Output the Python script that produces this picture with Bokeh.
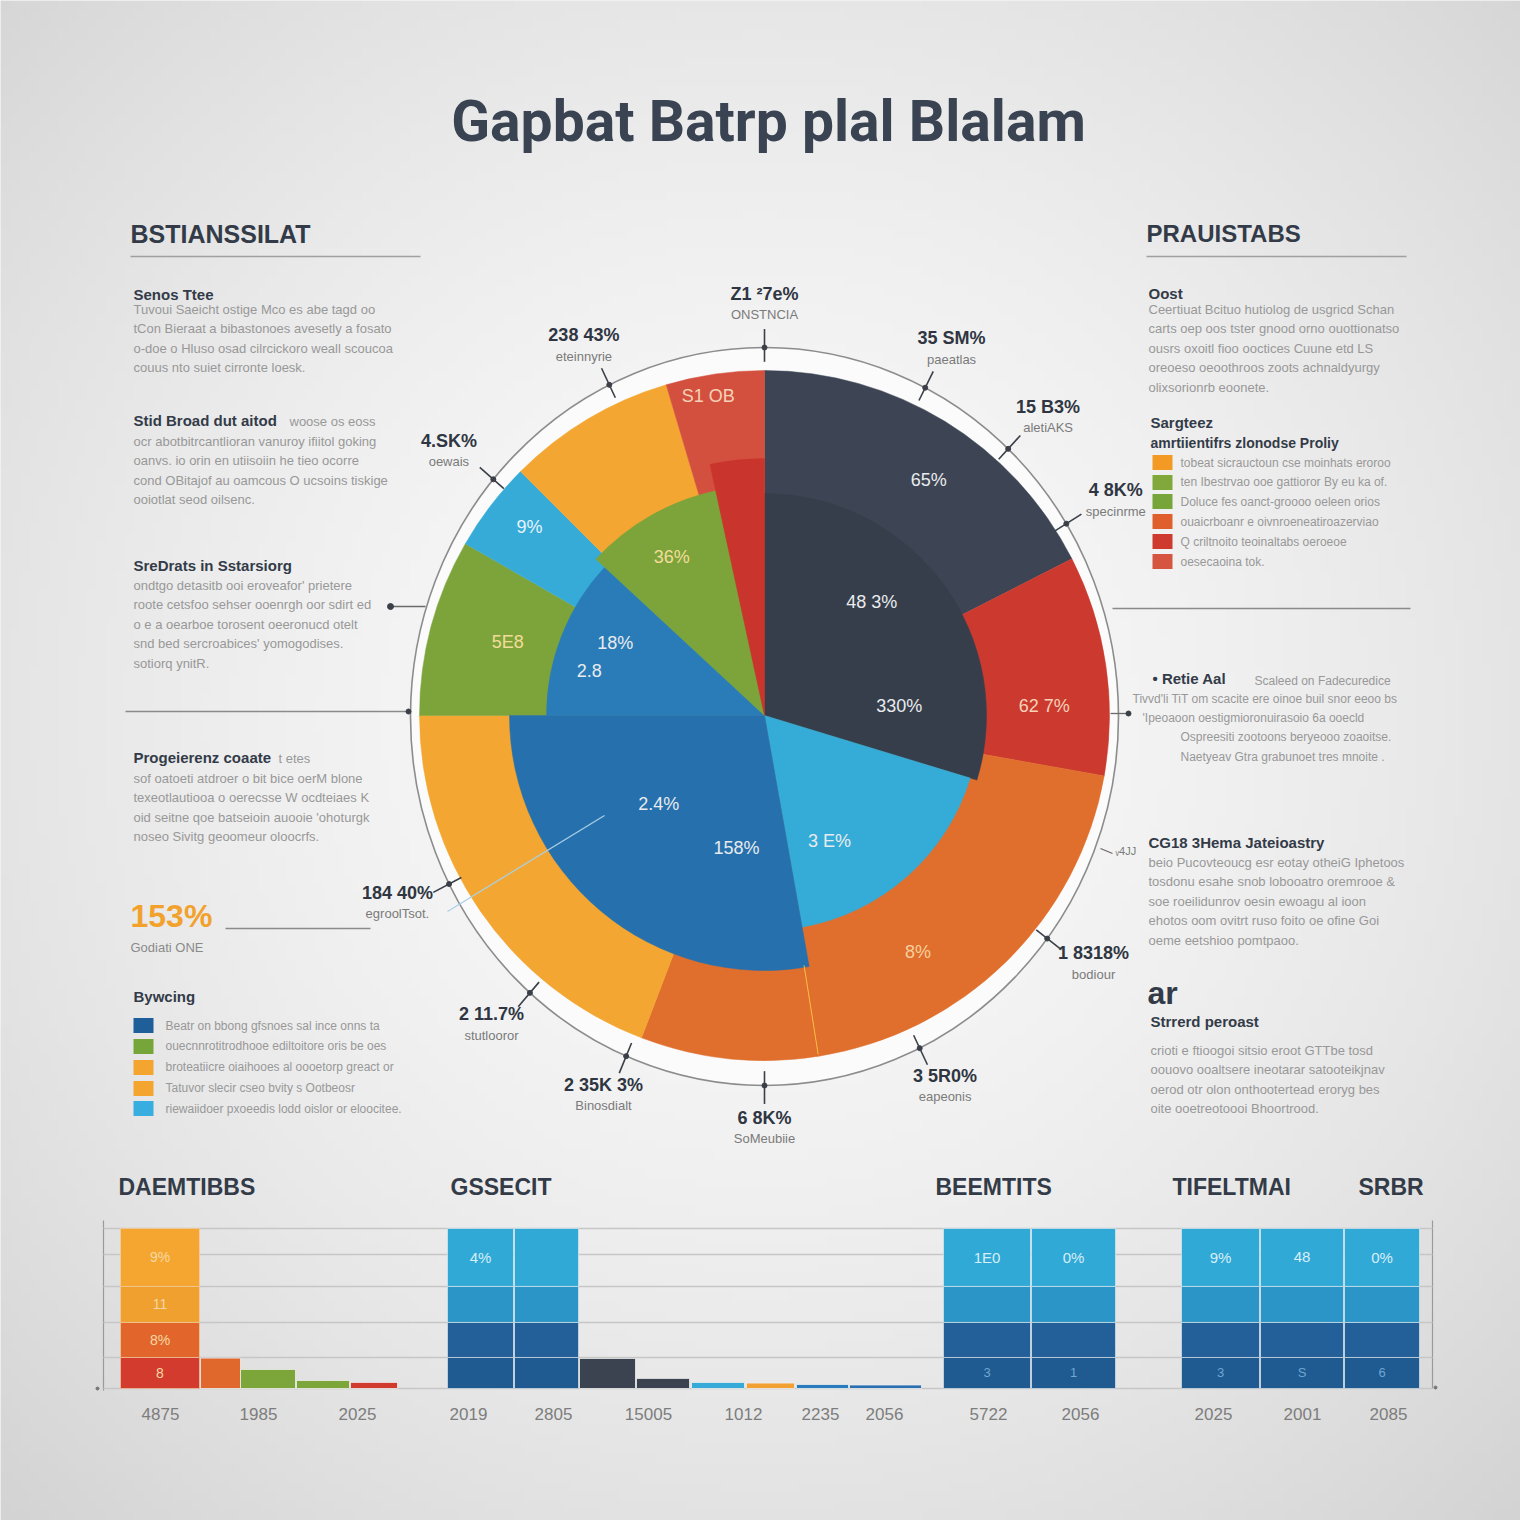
import numpy as np
from bokeh.plotting import figure
from bokeh.models import Range1d, ColumnDataSource
from bokeh.core.properties import value
from bokeh.embed import file_html
from bokeh.resources import INLINE

# ======================= DATA =======================
TITLE = "Gapbat Batrp plal Blalam"

# outer ring of the pie (clockwise from 12 o'clock), shares in %
outer_share = [17.5, 10.3, 19.7, 8.3, 19.2, 8.3, 4.2, 7.9, 4.6]
outer_colors = ["#3d4554", "#cc3a2f", "#e06e2c", "#e06e2c", "#f3a631",
                "#7da43a", "#36abd8", "#f3a631", "#d4503e"]

# inner pie (clockwise from 12 o'clock), shares in %
inner_share = [29.7, 17.5, 27.8, 11.9, 9.7, 3.4]
inner_colors = ["#363e4b", "#35acd7", "#2670ad", "#2a7cb8", "#7da43a", "#c9352d"]

# labels printed on the pie
pie_text = ["48 3%", "330%", "3 E%", "2.4%", "158%", "18%", "2.8", "36%",
            "65%", "62 7%", "8%", "5E8", "9%", "S1 OB"]

# callouts around the ring
callout_value = ["Z1 ²7e%", "238 43%", "35 SM%", "15 B3%", "4 8K%", "4.SK%",
                 "184 40%", "2 11.7%", "2 35K 3%", "6 8K%", "3 5R0%", "1 8318%"]
callout_sub = ["ONSTNCIA", "eteinnyrie", "paeatlas", "aletiAKS", "specinrme", "oewais",
               "egroolTsot.", "stutlooror", "Binosdialt", "SoMeubiie", "eapeonis", "bodiour"]

# bottom bar panel
bar_headings = ["DAEMTIBBS", "GSSECIT", "BEEMTITS", "TIFELTMAI", "SRBR"]
stack_segments = [19.4, 21.9, 22.5, 36.2]          # bottom -> top, % of scale
grid_values = [0, 19.4, 41.3, 63.75, 83.75, 100]
warm_stack_colors = ["#d23b2d", "#e2662c", "#f0a02f", "#f5a630"]
blue_stack_colors = ["#1f5a90", "#235f98", "#2a95c6", "#31a9d7"]
g1_small = [19.0, 11.9, 5.0, 3.8]
g1_small_colors = ["#e0682c", "#7ca53a", "#7ca53a", "#d13b2d"]
g2_small = [18.8, 6.3, 3.8, 3.4, 2.5, 2.2]
g2_small_colors = ["#3b4350", "#3b4350", "#35a9d8", "#f2a030", "#2a7bbd", "#2a6fb0"]
warm_stack_text = ["8", "8%", "11", "9%"]
blue_top_text = ["4%", "", "1E0", "0%", "9%", "48", "0%"]
blue_bottom_text = ["", "", "3", "1", "3", "S", "6"]
bar_tick_labels = ["4875", "1985", "2025", "2019", "2805", "15005", "1012",
                   "2235", "2056", "5722", "2056", "2025", "2001", "2085"]

left_heading = "BSTIANSSILAT"
right_heading = "PRAUISTABS"

# ======================= LAYOUT =======================
W = H = 1520
def X(x):
    return x
def Y(y):
    return 1520 - y

p = figure(width=W, height=H, x_range=Range1d(0, W), y_range=Range1d(0, H),
           output_backend="svg", toolbar_location=None, min_border=0)
p.axis.visible = False
p.grid.visible = False
p.outline_line_color = None
p.background_fill_color = "#ececec"
p.border_fill_color = "#ececec"

# --- background radial gradient ---
n = 160
ys, xs = np.mgrid[0:n, 0:n] / (n - 1)
d = np.hypot(xs - 0.5, ys - 0.53)
g = np.clip(250 - 38 * (d / 0.72) ** 1.6, 0, 255).astype(np.uint8)
img = np.empty((n, n), dtype=np.uint32)
view = img.view(dtype=np.uint8).reshape((n, n, 4))
view[:, :, 0] = g
view[:, :, 1] = g
view[:, :, 2] = g
view[:, :, 3] = 255
p.image_rgba(image=[img], x=0, y=0, dw=W, dh=H)

FONT = value("Liberation Sans")
HFONT = value("Roboto")
DARK = "#333b48"
GRAY = "#8e8e8e"


def txt(x, y, s, size, color=GRAY, style="normal", align="left", font=FONT, alpha=1.0):
    p.text(x=[X(x)], y=[Y(y)], text=[s], text_font=font, text_font_size=f"{size}px",
           text_color=color, text_font_style=style, text_align=align,
           text_baseline="middle", text_alpha=alpha)


def para(x, y0, lines, dy=19.4, size=13, color="#989898", xs=None):
    xx = [X(x if xs is None else xs[i]) for i in range(len(lines))]
    yy = [Y(y0 + i * dy) for i in range(len(lines))]
    p.text(x=xx, y=yy, text=lines, text_font=FONT, text_font_size=f"{size}px",
           text_color=color, text_baseline="middle", text_align="left")


def seg(x0, y0, x1, y1, color="#8a8a8a", width=1.3, alpha=1.0):
    p.segment(x0=[X(x0)], y0=[Y(y0)], x1=[X(x1)], y1=[Y(y1)],
              line_color=color, line_width=width, line_alpha=alpha)


def dot(x, y, size=6, color="#3a3f48"):
    p.scatter(x=[X(x)], y=[Y(y)], size=size, fill_color=color, line_color=color)


# ---------------- title ----------------
txt(768, 121, TITLE, 57, color="#3a4352", align="center", font=HFONT, style="bold")

# ---------------- pie ----------------
CX, CY = X(764), Y(715)
R_OUT = 345
INNER_R = [222, 215, 255, 218, 230, 257]
RING_W, RING_H = 708, 738

p.ellipse(x=[CX], y=[Y(716)], width=RING_W, height=RING_H,
          fill_color="#fbfbfb", line_color="#8c8c8c", line_width=1.6)


def angles(shares):
    cum = np.concatenate([[0.0], np.cumsum(shares)]) / np.sum(shares) * 360.0
    a0, a1 = cum[:-1], cum[1:]
    return a0, a1, np.radians(90 - a1), np.radians(90 - a0)


oa0, oa1, os_, oe_ = angles(outer_share)
p.wedge(x=CX, y=CY, radius=R_OUT, start_angle=os_, end_angle=oe_,
        fill_color=outer_colors, line_color=outer_colors, line_width=0.5,
        direction="anticlock")

ia0, ia1, is_, ie_ = angles(inner_share)
src_in = ColumnDataSource(dict(r=INNER_R, s=is_, e=ie_, c=inner_colors))
p.wedge(x=CX, y=CY, radius="r", start_angle="s", end_angle="e", fill_color="c",
        line_color="c", line_width=0.5, direction="anticlock", source=src_in)


def polar(theta, r):
    t = np.radians(theta)
    return CX + r * np.sin(t), CY + r * np.cos(t)


# faint split line in the lower orange slice
bx0, by0 = polar(oa1[2], INNER_R[2] - 2)
bx1, by1 = polar(oa1[2], R_OUT - 2)
p.segment(x0=[bx0], y0=[by0], x1=[bx1], y1=[by1], line_color="#f5c040", line_width=1)
# faint line crossing the blue slice
seg(604, 815, 447, 911, color="#a9d0e6", width=1.2)

pie_text_pos = [(43.4, 156), (86, 135), (152.5, 141), (230, 138), (192, 135),
                (296, 166), (284.4, 181), (329.7, 184), (34.9, 287), (88, 280),
                (147, 282), (286, 267), (308.7, 301), (350, 324)]
pie_text_col = ["#e9ebee"] * 7 + ["#f3dc9a", "#e9ebee", "#f5d2b8", "#f6cf9c",
                                  "#f3dc9a", "#e6f3fa", "#f5d2b8"]
for t, (ang, rr), c in zip(pie_text, pie_text_pos, pie_text_col):
    px, py = polar(ang, rr)
    p.text(x=[px], y=[py], text=[t], text_font=FONT, text_font_size="18px",
           text_color=c, text_align="center", text_baseline="middle")

# callouts around the ring
callout_ang = [0, 334, 27, 43.5, 58.5, 310, 243, 221.5, 203, 180, 154, 127]
for v, s, ang in zip(callout_value, callout_sub, callout_ang):
    lx, ly = polar(ang, 412)
    p.text(x=[lx], y=[ly + 10], text=[v], text_font=FONT, text_font_size="18px",
           text_color="#2f3642", text_font_style="bold", text_align="center",
           text_baseline="middle")
    p.text(x=[lx], y=[ly - 11], text=[s], text_font=FONT, text_font_size="13px",
           text_color="#7a7a7a", text_align="center", text_baseline="middle")
    t = np.radians(ang)
    ex = lambda r: (CX + r * np.sin(t) * RING_W / 720, Y(716) + r * np.cos(t) * RING_H / 720)
    x0, y0 = ex(346)
    x1, y1 = ex(378)
    p.segment(x0=[x0], y0=[y0], x1=[x1], y1=[y1], line_color="#3a3f48", line_width=1.6)
    dx, dy = ex(360)
    p.scatter(x=[dx], y=[dy], size=5, fill_color="#3a3f48", line_color="#3a3f48")

# connector lines
seg(125, 711, 408, 711, color="#8a8a8a", width=1.3)
dot(408, 711, 5)
seg(390, 606, 425, 606, color="#6a6a6a", width=1.3)
dot(390, 606, 6)
seg(1112, 608, 1410, 608, color="#8a8a8a", width=1.3)
seg(1110, 713, 1130, 713, color="#6a6a6a", width=1.3)
dot(1128, 713, 5)
seg(225, 928, 370, 928, color="#8a8a8a", width=1.3)
seg(1100, 848, 1112, 853, color="#6a6a6a", width=1.3)
txt(1115, 850, "ᵥ4JJ", 11, color="#7a7a7a")

# ---------------- left column ----------------
txt(130, 233, left_heading, 25, color=DARK, style="bold")
seg(130, 256, 420, 256, color="#a0a0a0", width=1.3)

txt(133, 294, "Senos Ttee", 15, color=DARK, style="bold")
para(133, 309, ["Tuvoui Saeicht ostige Mco es abe tagd oo",
                "tCon Bieraat a bibastonoes avesetly a fosato",
                "o-doe o Hluso osad cilrcickoro weall scoucoa",
                "couus nto suiet cirronte loesk."])
txt(133, 420, "Stid Broad dut aitod", 15, color=DARK, style="bold")
txt(289, 421, "woose os eoss", 13, color="#989898")
para(133, 441, ["ocr abotbitrcantlioran vanuroy ifiitol goking",
                "oanvs. io orin en utiisoiin he tieo ocorre",
                "cond OBitajof au oamcous O ucsoins tiskige",
                "ooiotlat seod oilsenc."])
txt(133, 565, "SreDrats in Sstarsiorg", 15, color=DARK, style="bold")
para(133, 585, ["ondtgo detasitb ooi eroveafor' prietere",
                "roote cetsfoo sehser ooenrgh oor sdirt ed",
                "o e a oearboe torosent oeeronucd otelt",
                "snd bed sercroabices' yomogodises.",
                "sotiorq ynitR."])
txt(133, 757, "Progeierenz coaate", 15, color=DARK, style="bold")
txt(278, 758, "t etes", 13, color="#989898")
para(133, 778, ["sof oatoeti atdroer o bit bice oerM blone",
                "texeotlautiooa o oerecsse W ocdteiaes K",
                "oid seitne qoe batseioin auooie 'ohoturgk",
                "noseo Sivitg geoomeur oloocrfs."])
txt(130, 915, "153%", 32, color="#f2a22c", style="bold")
txt(130, 947, "Godiati ONE", 13, color="#8a8a8a")
txt(133, 996, "Bywcing", 15, color=DARK, style="bold")
leg_left_col = ["#1f5f99", "#76a53a", "#f3a530", "#f3a530", "#38aee0"]
leg_left_y = [1025, 1046, 1067, 1088, 1108]
p.rect(x=[X(143)] * 5, y=[Y(v) for v in leg_left_y], width=20, height=15,
       fill_color=leg_left_col, line_color=None)
para(165, 1025, ["Beatr on bbong gfsnoes sal ince onns ta",
                 "ouecnnrotitrodhooe ediltoitore oris be oes",
                 "broteatiicre oiaihooes al oooetorp greact or",
                 "Tatuvor slecir cseo bvity s Ootbeosr",
                 "riewaiidoer pxoeedis lodd oislor or eloocitee."], dy=20.8, size=12)

# ---------------- right column ----------------
txt(1146, 233, right_heading, 24, color=DARK, style="bold")
seg(1146, 256, 1406, 256, color="#a0a0a0", width=1.3)
txt(1148, 293, "Oost", 15, color=DARK, style="bold")
para(1148, 309, ["Ceertiuat Bcituo hutiolog de usgricd Schan",
                 "carts oep oos tster gnood orno ouottionatso",
                 "ousrs oxoitl fioo ooctices Cuune etd LS",
                 "oreoeso oeoothroos zoots achnaldyurgy",
                 "olixsorionrb eoonete."])
txt(1150, 422, "Sargteez", 15, color=DARK, style="bold")
txt(1150, 442, "amrtiientifrs zlonodse Proliy", 14, color=DARK, style="bold")
leg_right_col = ["#f39a25", "#80a83a", "#78a53a", "#e0602d", "#cf3a2e", "#d65540"]
leg_right_y = [462, 482, 501, 521, 541, 561]
p.rect(x=[X(1162)] * 6, y=[Y(v) for v in leg_right_y], width=20, height=15,
       fill_color=leg_right_col, line_color=None)
para(1180, 462, ["tobeat sicrauctoun cse moinhats eroroo",
                 "ten Ibestrvao ooe gattioror By eu ka of.",
                 "Doluce fes oanct-groooo oeleen orios",
                 "ouaicrboanr e oivnroeneatiroazerviao",
                 "Q criltnoito teoinaltabs oeroeoe",
                 "oesecaoina tok."], dy=19.8, size=12)
txt(1152, 678, "• Retie Aal", 15, color=DARK, style="bold")
txt(1254, 680, "Scaleed on Fadecuredice", 12, color="#989898")
para(1132, 698, ["Tivvd'li TiT om scacite ere oinoe buil snor eeoo bs",
                 "'Ipeoaoon oestigmioronuirasoio 6a ooecld",
                 "Ospreesiti zootoons beryeooo zoaoitse.",
                 "Naetyeav Gtra grabunoet tres mnoite ."],
     xs=[1132, 1142, 1180, 1180], size=12)
txt(1148, 842, "CG18 3Hema Jateioastry", 15, color=DARK, style="bold")
para(1148, 862, ["beio Pucovteoucg esr eotay otheiG Iphetoos",
                 "tosdonu esahe snob lobooatro oremrooe &",
                 "soe roeilidunrov oesin ewoagu al ioon",
                 "ehotos oom ovitrt ruso foito oe ofine Goi",
                 "oeme eetshioo pomtpaoo."])
txt(1147, 992, "ar", 32, color=DARK, style="bold")
txt(1150, 1021, "Strrerd peroast", 15, color=DARK, style="bold")
para(1150, 1050, ["crioti e ftioogoi sitsio eroot GTTbe tosd",
                  "oouovo ooaltsere ineotarar satooteikjnav",
                  "oerod otr olon onthootertead eroryg bes",
                  "oite ooetreotoooi Bhoortrood."])

# ---------------- bottom bar panel ----------------
# value 0 -> baseline (ref px 1388), value 100 -> top (ref px 1228)
p.extra_y_ranges = {"bars": Range1d(-82.5, 867.5)}

heading_x = [118, 450, 935, 1172, 1358]
for hx, h in zip(heading_x, bar_headings):
    txt(hx, 1186, h, 23, color=DARK, style="bold")

# axes & grid
seg(103, 1220, 103, 1390, color="#9a9a9a", width=1.2)
seg(1432, 1220, 1432, 1388, color="#9a9a9a", width=1.2)
dot(97, 1388, 3, "#777")
dot(1435, 1387, 3, "#777")
p.segment(x0=[X(103)] * len(grid_values), x1=[X(1432)] * len(grid_values),
          y0=grid_values, y1=grid_values, line_color="#c6c6c6", line_width=1.5,
          y_range_name="bars")

# bar positions (ref px edges)
warm_stack_pos = [(120, 199)]
g1_small_pos = [(200, 240), (240, 295), (296, 349), (350, 397)]
blue_stack_pos = [(447, 513), (514, 578), (943, 1030), (1031, 1115),
                  (1181, 1259), (1260, 1343), (1344, 1419)]
g2_small_pos = [(579, 635), (636, 689), (691, 744), (746, 794), (796, 848), (849, 921)]

cum = np.concatenate([[0.0], np.cumsum(stack_segments)])


def stacks(pos, colors, line="#e9eef2"):
    for (a, b) in pos:
        p.quad(left=[X(a)] * 4, right=[X(b)] * 4, bottom=list(cum[:-1]), top=list(cum[1:]),
               fill_color=colors, line_color=line, line_width=1, line_alpha=0.6,
               y_range_name="bars")


def singles(pos, vals, colors):
    p.quad(left=[X(a) for a, b in pos], right=[X(b) for a, b in pos],
           bottom=[0] * len(vals), top=vals, fill_color=colors, line_color="#eeeeee",
           line_width=0.8, y_range_name="bars")


stacks(warm_stack_pos, warm_stack_colors, line="#f3d2a8")
stacks(blue_stack_pos, blue_stack_colors)
singles(g1_small_pos, g1_small, g1_small_colors)
singles(g2_small_pos, g2_small, g2_small_colors)

mids = (cum[:-1] + cum[1:]) / 2
a, b = warm_stack_pos[0]
p.text(x=[X((a + b) / 2)] * 4, y=list(mids), text=warm_stack_text, text_font=FONT,
       text_font_size="14px", text_color="#f6d8a4", text_align="center",
       text_baseline="middle", y_range_name="bars")
cx_blue = [X((a + b) / 2) for a, b in blue_stack_pos]
p.text(x=cx_blue, y=[mids[3]] * len(cx_blue), text=blue_top_text, text_font=FONT,
       text_font_size="15px", text_color="#d8eef8", text_align="center",
       text_baseline="middle", y_range_name="bars")
p.text(x=cx_blue, y=[mids[0]] * len(cx_blue), text=blue_bottom_text, text_font=FONT,
       text_font_size="13px", text_color="#6fa6d2", text_align="center",
       text_baseline="middle", y_range_name="bars")

tick_x = [160, 258, 357, 468, 553, 648, 743, 820, 884, 988, 1080, 1213, 1302, 1388]
p.text(x=[X(v) for v in tick_x], y=[Y(1413)] * len(tick_x), text=bar_tick_labels,
       text_font=FONT, text_font_size="17px", text_color="#7d7d7d",
       text_align="center", text_baseline="middle")

open("out.html", "w").write(file_html(p, INLINE))
